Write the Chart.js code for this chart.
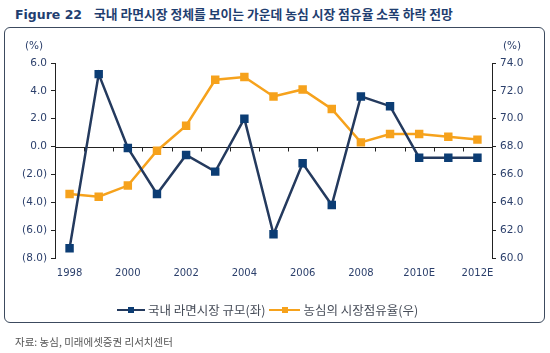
<!DOCTYPE html>
<html><head><meta charset="utf-8">
<script src="https://cdn.jsdelivr.net/npm/chart.js@4"></script>
<style>
html,body{margin:0;padding:0;background:#fff;}
#wrap{position:relative;width:550px;height:353px;overflow:hidden;font-family:"DejaVu Sans",sans-serif;}
#title{position:absolute;left:15px;top:4px;font-size:12.5px;font-weight:bold;color:#1f3e70;white-space:nowrap;font-family:"DejaVu Sans","Noto Sans CJK KR",sans-serif;}
#title .k{font-family:"Noto Sans CJK KR",sans-serif;font-size:12.8px;margin-left:12px;}
#box{position:absolute;left:4px;top:27px;width:539px;height:294px;border:1.3px solid #3c4a5e;border-radius:6px;}
#c{position:absolute;left:0;top:0;}
.unit{position:absolute;top:39px;font-size:10.5px;color:#2b3f6b;}
#legend{position:absolute;top:298px;left:117px;font-family:"Noto Sans CJK KR",sans-serif;font-size:12.5px;color:#454b57;white-space:nowrap;}
.li{display:inline-block;vertical-align:middle;}
.sw{position:relative;display:inline-block;width:28px;height:10px;vertical-align:middle;margin-right:3px;}
.sw .ln{position:absolute;left:0;right:0;top:4px;height:2.5px;}
.sw .mk{position:absolute;left:11px;top:2px;width:6px;height:6px;}
#src{position:absolute;left:15px;top:334px;font-size:10.5px;color:#555;font-family:"Noto Sans CJK KR",sans-serif;}
</style></head>
<body>
<div id="wrap">
<div id="title">Figure 22<span class="k">국내 라면시장 정체를 보이는 가운데 농심 시장 점유율 소폭 하락 전망</span></div>
<div id="box"></div>
<canvas id="c" width="550" height="353"></canvas>
<div class="unit" style="left:25px">(%)</div>
<div class="unit" style="left:503px">(%)</div>
<div id="legend">
<span class="sw"><span class="ln" style="background:#243a5e"></span><span class="mk" style="background:#0c3d74"></span></span><span class="li">국내 라면시장 규모(좌)</span>
<span class="sw" style="margin-left:1px;width:31px"><span class="ln" style="background:#f6a21c"></span><span class="mk" style="background:#f6a21c;left:13px"></span></span><span class="li">농심의 시장점유율(우)</span>
</div>
<div id="src">자료: 농심, 미래에셋증권 리서치센터</div>
</div>
<script>
const categories = ["1998","1999","2000","2001","2002","2003","2004","2005","2006","2007","2008","2009","2010E","2011E","2012E"];
const marketGrowth = [-7.3, 5.2, -0.1, -3.4, -0.6, -1.8, 2.0, -6.3, -1.2, -4.2, 3.6, 2.9, -0.8, -0.8, -0.8];
const nongshimShare = [64.6, 64.4, 65.2, 67.7, 69.5, 72.8, 73.0, 71.6, 72.1, 70.7, 68.3, 68.9, 68.9, 68.7, 68.5];
const seriesNames = ["국내 라면시장 규모(좌)", "농심의 시장점유율(우)"];

const zeroLine = {
  id:'zeroLine',
  beforeDatasetsDraw(chart){
    const {ctx, chartArea:a, scales:{x,y}} = chart;
    const yz = Math.round(y.getPixelForValue(0))+0.5;
    ctx.save();
    ctx.strokeStyle='#222';ctx.lineWidth=1;
    ctx.beginPath();ctx.moveTo(a.left,yz);ctx.lineTo(a.right,yz);
    for(let i=1;i<categories.length;i++){
      const xb = Math.round((x.getPixelForValue(i-1)+x.getPixelForValue(i))/2)+0.5;
      ctx.moveTo(xb,yz);ctx.lineTo(xb,yz+4);
    }
    ctx.stroke();ctx.restore();
  }
};

new Chart(document.getElementById('c'), {
  type:'line',
  data:{
    labels:categories,
    datasets:[
      {label:seriesNames[0],data:marketGrowth,yAxisID:'y',borderColor:'#243a5e',backgroundColor:'#0c3d74',pointBackgroundColor:'#0c3d74',pointBorderColor:'#0c3d74',borderWidth:2.5,pointStyle:'rect',pointRadius:4.2,tension:0},
      {label:seriesNames[1],data:nongshimShare,yAxisID:'y1',borderColor:'#f6a21c',backgroundColor:'#f6a21c',pointBackgroundColor:'#f6a21c',pointBorderColor:'#f6a21c',borderWidth:2.5,pointStyle:'rect',pointRadius:4.2,tension:0}
    ]
  },
  options:{
    responsive:false,animation:false,
    layout:{padding:{top:63,left:0,right:0,bottom:0}},
    plugins:{legend:{display:false},tooltip:{enabled:false}},
    scales:{
      x:{offset:true,grid:{display:false,drawTicks:false},border:{display:false},
        ticks:{autoSkip:false,maxRotation:0,padding:9,color:'#2b3f6b',font:{family:'DejaVu Sans',size:10},
          callback:function(v,i){return i%2===0?categories[i]:'';}},
        afterFit(s){s.height=95;}},
      y:{position:'left',min:-8,max:6,
        grid:{drawOnChartArea:false,drawTicks:true,tickLength:4,color:'#222'},
        border:{display:true,color:'#222',width:1},
        ticks:{stepSize:2,padding:4,color:'#2b3f6b',font:{family:'DejaVu Sans',size:10.5},
          callback:v=> v<0?'('+Math.abs(v).toFixed(1)+')':v.toFixed(1)},
        afterFit(s){s.width=55;}},
      y1:{position:'right',min:60,max:74,
        grid:{drawOnChartArea:false,drawTicks:true,tickLength:4,color:'#222'},
        border:{display:true,color:'#222',width:1},
        ticks:{stepSize:2,padding:4,color:'#2b3f6b',font:{family:'DejaVu Sans',size:10.5},
          callback:v=>v.toFixed(1)},
        afterFit(s){s.width=58;}}
    }
  },
  plugins:[zeroLine]
});
</script>
</body></html>
